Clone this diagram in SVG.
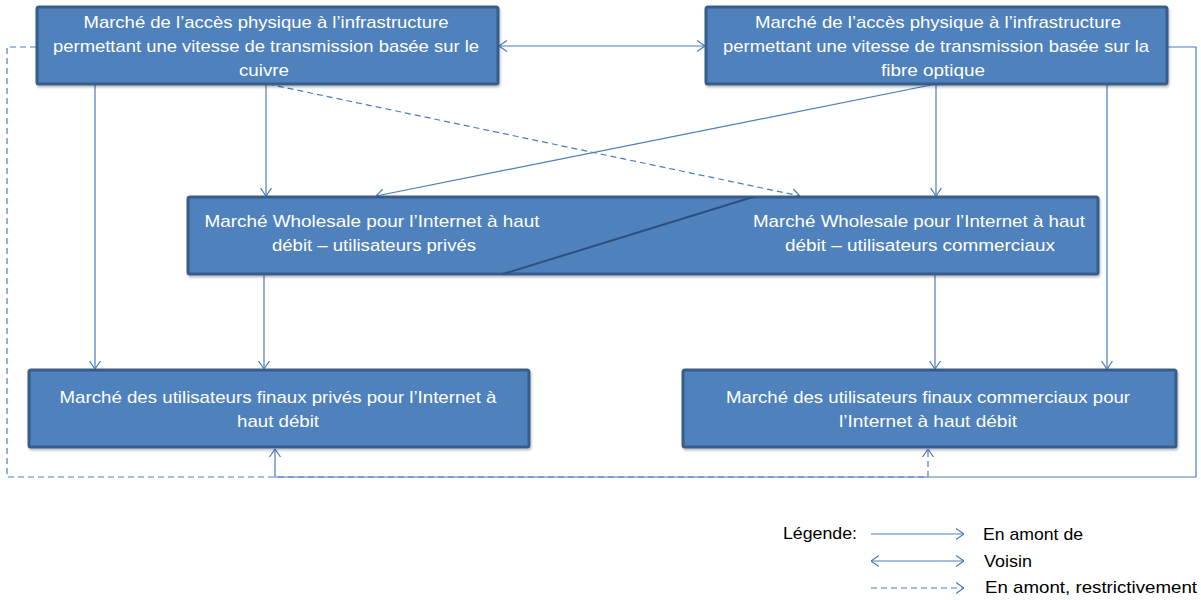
<svg xmlns="http://www.w3.org/2000/svg" width="1201" height="600" viewBox="0 0 1201 600">
<style>
.box{fill:#4f81bd;stroke:#385d8a;stroke-width:3}
.bt{font-family:"Liberation Sans",Arial,sans-serif;font-size:17px;fill:#ffffff;text-anchor:middle}
.lt{font-family:"Liberation Sans",Arial,sans-serif;font-size:17px;fill:#000000}
.c{fill:none;stroke:#4a7ebb;stroke-width:1.2}
.d{stroke-dasharray:6,4}
</style>
<defs>
<filter id="sh" x="-5%" y="-5%" width="110%" height="120%"><feDropShadow dx="1" dy="2" stdDeviation="1.2" flood-color="#000" flood-opacity="0.25"/></filter>
<marker id="ah" viewBox="0 0 8 12" refX="8" refY="6" markerWidth="8" markerHeight="12" markerUnits="userSpaceOnUse" orient="auto-start-reverse">
<path d="M0,0.5 L8,6 L0,11.5" fill="none" stroke="#4a7ebb" stroke-width="1.2"/>
</marker>
</defs>
<rect width="1201" height="600" fill="#ffffff"/>
<g id="connectors">
<line class="c" x1="95" y1="84" x2="95" y2="369" marker-end="url(#ah)"/>
<line class="c" x1="266" y1="84" x2="266" y2="196" marker-end="url(#ah)"/>
<line class="c d" x1="268" y1="84" x2="800" y2="196" marker-end="url(#ah)"/>
<line class="c" x1="936" y1="84" x2="376" y2="196" marker-end="url(#ah)"/>
<line class="c" x1="936" y1="84" x2="936" y2="196" marker-end="url(#ah)"/>
<line class="c" x1="1107" y1="84" x2="1107" y2="369" marker-end="url(#ah)"/>
<line class="c" x1="935" y1="275" x2="935" y2="369" marker-end="url(#ah)"/>
<line class="c" x1="264" y1="275" x2="264" y2="369" marker-end="url(#ah)"/>
<line class="c" x1="499" y1="46" x2="705" y2="46" marker-start="url(#ah)" marker-end="url(#ah)"/>
<polyline class="c" points="1168,47 1196,47 1196,477 275,477 275,449" marker-end="url(#ah)"/>
<polyline class="c d" points="36,47 7,47 7,477 928,477 928,449" marker-end="url(#ah)"/>
</g>
<g id="node-cuivre">
<rect class="box" x="37" y="7" width="461" height="77" rx="2" filter="url(#sh)"/>
<text class="bt" x="266" y="28" textLength="365" lengthAdjust="spacingAndGlyphs">Marché de l’accès physique à l’infrastructure</text>
<text class="bt" x="266" y="52" textLength="426" lengthAdjust="spacingAndGlyphs">permettant une vitesse de transmission basée sur le</text>
<text class="bt" x="264" y="76" textLength="50" lengthAdjust="spacingAndGlyphs">cuivre</text>
</g>
<g id="node-fibre">
<rect class="box" x="706" y="7" width="461" height="77" rx="2" filter="url(#sh)"/>
<text class="bt" x="938" y="28" textLength="366" lengthAdjust="spacingAndGlyphs">Marché de l’accès physique à l’infrastructure</text>
<text class="bt" x="936" y="52" textLength="426" lengthAdjust="spacingAndGlyphs">permettant une vitesse de transmission basée sur la</text>
<text class="bt" x="933" y="76" textLength="104" lengthAdjust="spacingAndGlyphs">fibre optique</text>
</g>
<g id="node-wholesale">
<rect class="box" x="188" y="197" width="910" height="77" rx="2" filter="url(#sh)"/>
<line x1="503" y1="274" x2="753" y2="197" stroke="#2c4f7f" stroke-width="2"/>
<text class="bt" x="372" y="227" textLength="335" lengthAdjust="spacingAndGlyphs">Marché Wholesale pour l’Internet à haut</text>
<text class="bt" x="374" y="251" textLength="204" lengthAdjust="spacingAndGlyphs">débit – utilisateurs privés</text>
<text class="bt" x="919" y="227" textLength="332" lengthAdjust="spacingAndGlyphs">Marché Wholesale pour l’Internet à haut</text>
<text class="bt" x="920" y="251" textLength="270" lengthAdjust="spacingAndGlyphs">débit – utilisateurs commerciaux</text>
</g>
<g id="node-finaux-prives">
<rect class="box" x="29" y="370" width="500" height="77" rx="2" filter="url(#sh)"/>
<text class="bt" x="278" y="403" textLength="437" lengthAdjust="spacingAndGlyphs">Marché des utilisateurs finaux privés pour l’Internet à</text>
<text class="bt" x="278" y="427" textLength="82" lengthAdjust="spacingAndGlyphs">haut débit</text>
</g>
<g id="node-finaux-commerciaux">
<rect class="box" x="683" y="370" width="493" height="77" rx="2" filter="url(#sh)"/>
<text class="bt" x="928" y="403" textLength="404" lengthAdjust="spacingAndGlyphs">Marché des utilisateurs finaux commerciaux pour</text>
<text class="bt" x="928" y="427" textLength="178" lengthAdjust="spacingAndGlyphs">l’Internet à haut débit</text>
</g>
<g id="legend">
<text class="lt" x="783" y="539" textLength="74" lengthAdjust="spacingAndGlyphs">Légende:</text>
<line class="c" x1="871" y1="534" x2="964" y2="534" marker-end="url(#ah)"/>
<text class="lt" x="983" y="540" textLength="100" lengthAdjust="spacingAndGlyphs">En amont de</text>
<line class="c" x1="871" y1="561" x2="964" y2="561" marker-start="url(#ah)" marker-end="url(#ah)"/>
<text class="lt" x="984" y="567" textLength="48" lengthAdjust="spacingAndGlyphs">Voisin</text>
<line class="c d" x1="871" y1="588" x2="964" y2="588" marker-end="url(#ah)"/>
<text class="lt" x="985" y="593" textLength="212" lengthAdjust="spacingAndGlyphs">En amont, restrictivement</text>
</g>
</svg>
